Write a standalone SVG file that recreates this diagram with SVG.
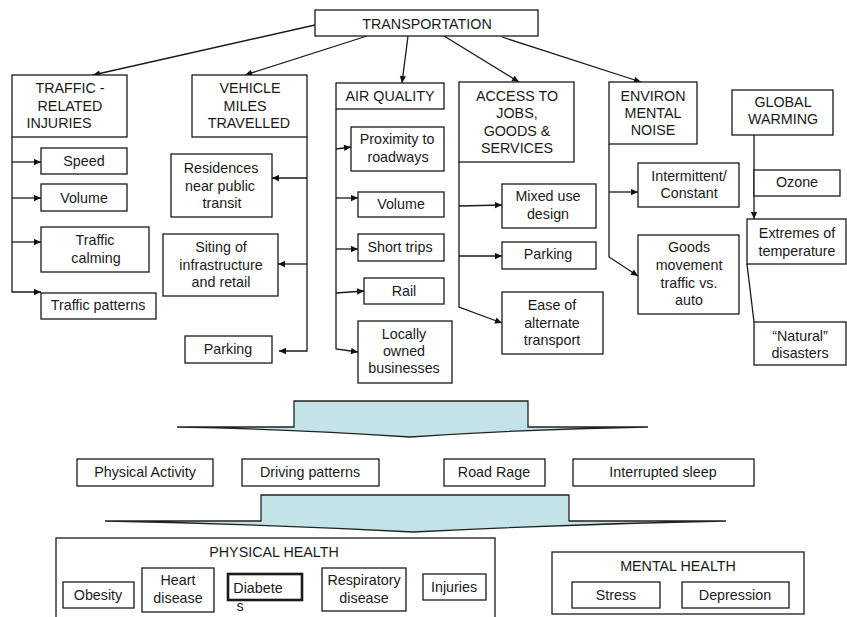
<svg xmlns="http://www.w3.org/2000/svg" width="847" height="617" viewBox="0 0 847 617">
<style>
rect.b{fill:#fff;stroke:#1a1a1a;stroke-width:1.3}
text{font-family:"Liberation Sans",Arial,sans-serif;font-size:14.3px;fill:#1a1a1a;text-anchor:middle}
.c path,.c line{fill:none;stroke:#1a1a1a;stroke-width:1.3}
.a{marker-end:url(#ah)}
.big{fill:#c3e3e8;stroke:#222;stroke-width:1.3}
</style>
<defs>
<marker id="ah" viewBox="0 0 10 10" refX="10" refY="5" markerWidth="8" markerHeight="7" orient="auto" markerUnits="userSpaceOnUse"><path d="M0,0.5 L10,5 L0,9.5 Z" fill="#111"/></marker>
</defs>
<rect width="847" height="617" fill="#fff"/>

<g class="c" id="connectors">
<line class="a" x1="315" y1="25" x2="93" y2="75"/>
<line class="a" x1="367" y1="36" x2="245" y2="75"/>
<line class="a" x1="408" y1="36" x2="402" y2="83"/>
<line class="a" x1="444" y1="36" x2="519" y2="82"/>
<line class="a" x1="502" y1="37" x2="641" y2="82"/>
<path class="a" d="M12,137 V292 H41"/>
<path class="a" d="M12,162 H41"/>
<path class="a" d="M12,198 H41"/>
<path class="a" d="M12,242 H41"/>
<path class="a" d="M307,137 V351 H279"/>
<path class="a" d="M307,178 H272"/>
<path class="a" d="M307,264 H278"/>
<path class="a" d="M336,109 V349 L358,352"/>
<path class="a" d="M336,149 L351,147"/>
<path class="a" d="M336,198 H358"/>
<path class="a" d="M336,249 H358"/>
<path class="a" d="M336,293 L364,291"/>
<path class="a" d="M459,162 V307 L502,323"/>
<path class="a" d="M459,206 L502,205"/>
<path class="a" d="M459,256 H502"/>
<path class="a" d="M609,144 V257 L638,276"/>
<path class="a" d="M609,192 H638"/>
<path class="a" d="M754,135 V219"/>
<path d="M747,264 L754,322"/>
</g>

<g id="transportation"><rect class="b" x="315" y="10" width="223" height="26"/><text x="427" y="29">TRANSPORTATION</text></g>

<g id="traffic-injuries"><rect class="b" x="12" y="75" width="115" height="62"/>
<text x="70" y="93">TRAFFIC -</text><text x="70" y="111">RELATED</text><text x="59" y="128">INJURIES</text></g>
<g id="speed"><rect class="b" x="41" y="148" width="86" height="26"/><text x="84" y="166">Speed</text></g>
<g id="volume1"><rect class="b" x="41" y="184" width="86" height="27"/><text x="84" y="203">Volume</text></g>
<g id="traffic-calming"><rect class="b" x="41" y="227" width="108" height="45"/><text x="95" y="245">Traffic</text><text x="96" y="263">calming</text></g>
<g id="traffic-patterns"><rect class="b" x="41" y="293" width="115" height="26"/><text x="98" y="310">Traffic patterns</text></g>

<g id="vmt"><rect class="b" x="192" y="75" width="115" height="62"/>
<text x="250" y="93">VEHICLE</text><text x="245" y="111">MILES</text><text x="249" y="128">TRAVELLED</text></g>
<g id="residences"><rect class="b" x="171" y="154" width="101" height="63"/><text x="221" y="173">Residences</text><text x="220" y="191">near public</text><text x="222" y="208">transit</text></g>
<g id="siting"><rect class="b" x="163" y="234" width="115" height="62"/><text x="221" y="252">Siting of</text><text x="221" y="270">infrastructure</text><text x="221" y="287">and retail</text></g>
<g id="parking1"><rect class="b" x="185" y="336" width="87" height="27"/><text x="228" y="354">Parking</text></g>

<g id="air-quality"><rect class="b" x="336" y="83" width="108" height="26"/><text x="390" y="101">AIR QUALITY</text></g>
<g id="proximity"><rect class="b" x="351" y="127" width="93" height="44"/><text x="397" y="144">Proximity to</text><text x="398" y="162">roadways</text></g>
<g id="volume2"><rect class="b" x="358" y="192" width="86" height="25"/><text x="401" y="209">Volume</text></g>
<g id="short-trips"><rect class="b" x="358" y="234" width="86" height="27"/><text x="400" y="252">Short trips</text></g>
<g id="rail"><rect class="b" x="364" y="278" width="80" height="26"/><text x="404" y="296">Rail</text></g>
<g id="locally-owned"><rect class="b" x="358" y="321" width="94" height="62"/><text x="404" y="339">Locally</text><text x="404" y="356">owned</text><text x="404" y="373">businesses</text></g>

<g id="access"><rect class="b" x="459" y="82" width="115" height="80"/>
<text x="517" y="101">ACCESS TO</text><text x="517" y="118">JOBS,</text><text x="517" y="136">GOODS &amp;</text><text x="517" y="153">SERVICES</text></g>
<g id="mixed-use"><rect class="b" x="502" y="184" width="94" height="44"/><text x="548" y="201">Mixed use</text><text x="548" y="219">design</text></g>
<g id="parking2"><rect class="b" x="502" y="242" width="94" height="27"/><text x="548" y="259">Parking</text></g>
<g id="ease"><rect class="b" x="502" y="292" width="101" height="62"/><text x="552" y="310">Ease of</text><text x="552" y="328">alternate</text><text x="552" y="345">transport</text></g>

<g id="environ"><rect class="b" x="609" y="82" width="88" height="62"/>
<text x="653" y="101">ENVIRON</text><text x="653" y="118">MENTAL</text><text x="653" y="135">NOISE</text></g>
<g id="intermittent"><rect class="b" x="638" y="163" width="101" height="44"/><text x="689" y="181">Intermittent/</text><text x="689" y="198">Constant</text></g>
<g id="goods"><rect class="b" x="638" y="235" width="101" height="79"/><text x="689" y="252">Goods</text><text x="689" y="270">movement</text><text x="689" y="288">traffic vs.</text><text x="689" y="305">auto</text></g>

<g id="global-warming"><rect class="b" x="732" y="90" width="101" height="45"/><text x="783" y="107">GLOBAL</text><text x="783" y="124">WARMING</text></g>
<g id="ozone"><rect class="b" x="754" y="170" width="86" height="26"/><text x="797" y="187">Ozone</text></g>
<g id="extremes"><rect class="b" x="747" y="219" width="99" height="45"/><text x="797" y="238">Extremes of</text><text x="797" y="256">temperature</text></g>
<g id="natural"><rect class="b" x="754" y="322" width="92" height="43"/><text x="800" y="341">“Natural”</text><text x="800" y="358">disasters</text></g>

<g id="arrow1"><path class="big" d="M294,401 H528 V427 H648 Q530,429 410,437 Q290,429 177,427 H294 Z"/></g>

<g id="physical-activity"><rect class="b" x="77" y="459" width="136" height="27"/><text x="145" y="477">Physical Activity</text></g>
<g id="driving-patterns"><rect class="b" x="242" y="459" width="137" height="27"/><text x="310" y="477">Driving patterns</text></g>
<g id="road-rage"><rect class="b" x="444" y="459" width="101" height="27"/><text x="494" y="477">Road Rage</text></g>
<g id="interrupted-sleep"><rect class="b" x="573" y="459" width="181" height="27"/><text x="663" y="477">Interrupted sleep</text></g>

<g id="arrow2"><path class="big" d="M261,495 H569 V521 H726 Q570,524 413,532 Q260,524 105,521 H261 Z"/></g>

<g id="physical-health"><rect class="b" x="56" y="538" width="439" height="90"/><text x="274" y="557">PHYSICAL HEALTH</text></g>
<g id="obesity"><rect class="b" x="63" y="582" width="71" height="26"/><text x="98" y="600">Obesity</text></g>
<g id="heart-disease"><rect class="b" x="142" y="568" width="72" height="44"/><text x="178" y="585">Heart</text><text x="178" y="603">disease</text></g>
<g id="diabetes"><rect class="b" x="228" y="574" width="74" height="26" style="stroke-width:2.6"/><text x="258" y="593">Diabete</text><text x="240" y="611">s</text></g>
<g id="respiratory"><rect class="b" x="322" y="568" width="84" height="43"/><text x="364" y="585">Respiratory</text><text x="364" y="603">disease</text></g>
<g id="injuries"><rect class="b" x="423" y="574" width="63" height="26"/><text x="454" y="592">Injuries</text></g>

<g id="mental-health"><rect class="b" x="552" y="552" width="252" height="62"/><text x="678" y="571">MENTAL HEALTH</text></g>
<g id="stress"><rect class="b" x="572" y="582" width="88" height="26"/><text x="616" y="600">Stress</text></g>
<g id="depression"><rect class="b" x="682" y="582" width="107" height="26"/><text x="735" y="600">Depression</text></g>
</svg>
